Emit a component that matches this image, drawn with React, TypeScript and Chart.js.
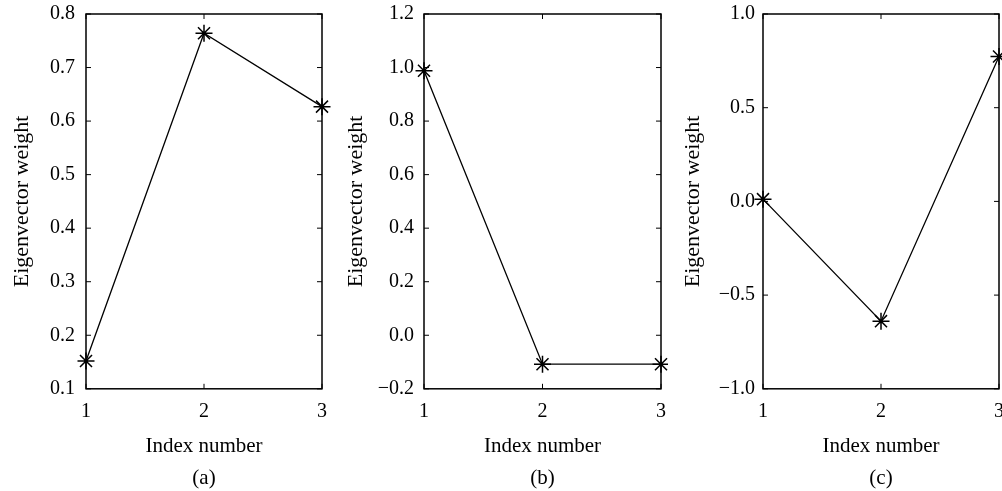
import React, { useEffect, useRef } from "react";
import { Chart, registerables } from "chart.js";

Chart.register(...registerables);

const indexNumbers = [1, 2, 3];
const xTicks = [1, 2, 3];

const weightsA = [0.152, 0.764, 0.627];
const weightsB = [0.988, -0.108, -0.108];
const weightsC = [0.012, -0.639, 0.773];

const yTicksA = [0.1, 0.2, 0.3, 0.4, 0.5, 0.6, 0.7, 0.8];
const yTicksB = [-0.2, 0.0, 0.2, 0.4, 0.6, 0.8, 1.0, 1.2];
const yTicksC = [-1.0, -0.5, 0.0, 0.5, 1.0];

const captions = ["(a)", "(b)", "(c)"];
const xTitle = "Index number";
const yTitle = "Eigenvector weight";

const FONT = "'Liberation Serif', 'Times New Roman', serif";

type PanelCfg = {
  left: number;
  width: number;
  padRight: number;
  yWidth: number;
  yTitlePad: number;
  yTickPad: number;
  values: number[];
  yTicks: number[];
  caption: string;
};

const panels: PanelCfg[] = [
  { left: 0, width: 334, padRight: 12, yWidth: 86, yTitlePad: 9, yTickPad: 11, values: weightsA, yTicks: yTicksA, caption: captions[0] },
  { left: 334, width: 334, padRight: 7, yWidth: 90, yTitlePad: 9, yTickPad: 10, values: weightsB, yTicks: yTicksB, caption: captions[1] },
  { left: 668, width: 334, padRight: 3, yWidth: 95, yTitlePad: 12, yTickPad: 8, values: weightsC, yTicks: yTicksC, caption: captions[2] },
];

const fmt = (v: number) => {
  const s = Math.abs(v).toFixed(1);
  return v < -1e-9 ? "\u2212" + s : s;
};

const zeroPad = (s: any) => {
  s.paddingTop = 0;
  s.paddingBottom = 0;
  s.paddingLeft = 0;
  s.paddingRight = 0;
};

const boxPlugin = {
  id: "matlabBox",
  afterDraw(chart: any) {
    const { ctx, chartArea } = chart;
    const { left, right, top, bottom } = chartArea;
    const xs = chart.scales.x;
    const ys = chart.scales.y;
    const tl = 5;
    ctx.save();
    ctx.strokeStyle = "#000";
    ctx.lineWidth = 1.5;
    ctx.strokeRect(left, top, right - left, bottom - top);
    ctx.lineWidth = 1;
    ctx.beginPath();
    xs.ticks.forEach((t: any) => {
      const px = xs.getPixelForValue(t.value);
      ctx.moveTo(px, bottom);
      ctx.lineTo(px, bottom - tl);
      ctx.moveTo(px, top);
      ctx.lineTo(px, top + tl);
    });
    ys.ticks.forEach((t: any) => {
      const py = ys.getPixelForValue(t.value);
      ctx.moveTo(left, py);
      ctx.lineTo(left + tl, py);
      ctx.moveTo(right, py);
      ctx.lineTo(right - tl, py);
    });
    ctx.stroke();
    ctx.restore();
  },
};

function Panel({ cfg }: { cfg: PanelCfg }) {
  const ref = useRef<HTMLCanvasElement | null>(null);
  useEffect(() => {
    if (!ref.current) return;
    const chart = new Chart(ref.current, {
      type: "line",
      data: {
        datasets: [
          {
            data: indexNumbers.map((x, i) => ({ x, y: cfg.values[i] })),
            borderColor: "#000",
            borderWidth: 1.3,
            pointStyle: "star",
            pointRadius: 8.5,
            pointBorderColor: "#000",
            pointBorderWidth: 1.5,
            pointBackgroundColor: "#000",
            clip: false,
            tension: 0,
          } as any,
        ],
      },
      options: {
        animation: false,
        responsive: false,
        devicePixelRatio: 1,
        layout: { autoPadding: false, padding: { top: 14, right: cfg.padRight, left: 0, bottom: 0 } },
        plugins: {
          legend: { display: false },
          tooltip: { enabled: false },
          title: {
            display: true,
            position: "bottom",
            fullSize: false,
            text: cfg.caption,
            color: "#000",
            font: { family: FONT, size: 21, weight: "normal" },
            padding: 0,
          },
        },
        scales: {
          x: {
            type: "linear",
            min: 1,
            max: 3,
            grid: { display: false, drawTicks: false },
            border: { display: false },
            afterBuildTicks: (s: any) => {
              s.ticks = xTicks.map((v) => ({ value: v }));
            },
            afterFit: (s: any) => {
              s.height = 77;
              zeroPad(s);
            },
            ticks: {
              color: "#000",
              padding: 11,
              maxRotation: 0,
              font: { family: FONT, size: 20 },
              callback: (v: any) => String(v),
            },
            title: {
              display: true,
              text: xTitle,
              color: "#000",
              font: { family: FONT, size: 21 },
              padding: { top: 0, bottom: 7 },
            },
          },
          y: {
            type: "linear",
            min: cfg.yTicks[0],
            max: cfg.yTicks[cfg.yTicks.length - 1],
            grid: { display: false, drawTicks: false },
            border: { display: false },
            afterBuildTicks: (s: any) => {
              s.ticks = cfg.yTicks.map((v) => ({ value: v }));
            },
            afterFit: (s: any) => {
              s.width = cfg.yWidth;
              zeroPad(s);
            },
            ticks: {
              color: "#000",
              padding: cfg.yTickPad,
              font: { family: FONT, size: 20 },
              callback: (v: any) => fmt(Number(v)),
            },
            title: {
              display: true,
              text: yTitle,
              color: "#000",
              font: { family: FONT, size: 22 },
              padding: { top: cfg.yTitlePad, bottom: 0 },
            },
          },
        },
      } as any,
      plugins: [boxPlugin],
    });
    return () => chart.destroy();
  }, [cfg]);
  return (
    <canvas
      ref={ref}
      width={cfg.width}
      height={491}
      style={{ position: "absolute", left: cfg.left, top: 0, width: cfg.width, height: 491, display: "block" }}
    />
  );
}

export default function App() {
  return (
    <div style={{ position: "absolute", left: 0, top: 0, width: 1002, height: 491, background: "#fff", overflow: "hidden" }}>
      {panels.map((p, i) => (
        <Panel key={i} cfg={p} />
      ))}
    </div>
  );
}
